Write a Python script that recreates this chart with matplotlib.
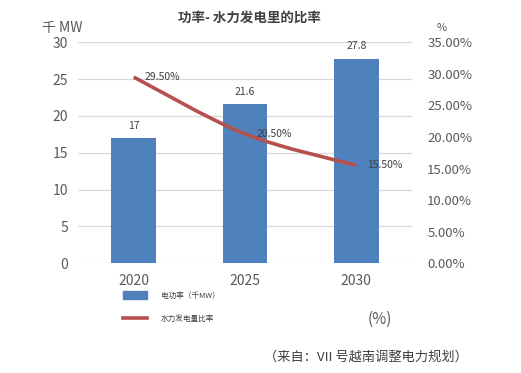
import matplotlib.pyplot as plt
from matplotlib.path import Path
from matplotlib.patches import PathPatch, Patch
from matplotlib.lines import Line2D

plt.rcParams['font.family'] = ['Noto Sans CJK SC', 'DejaVu Sans']

# data
years = ["2020", "2025", "2030"]
power = [17, 21.6, 27.8]             # 千 MW
hydro_share = [29.5, 20.5, 15.5]     # %

bar_color = "#4F81BD"
line_color = "#B5504D"
text_color = "#595959"

fig = plt.figure(figsize=(5.21, 3.73), dpi=100)
ax = fig.add_axes([0.1497, 0.294, 0.641, 0.5926])
ax2 = ax.twinx()

x = list(range(len(years)))
ax.bar(x, power, width=0.4, color=bar_color, zorder=2)
for xi, v in zip(x, power):
    ax.text(xi, v + 1.0, f"{v:g}", ha="center", va="bottom", fontsize=7.5, color="#404040")

ax.set_xlim(-0.5, 2.5)
ax.set_ylim(0, 30)
ax.set_yticks(range(0, 31, 5))
ax.set_xticks(x)
ax.set_xticklabels(years)
ax.grid(axis="y", color="#D9D9D9", linewidth=0.9, zorder=0)
ax.set_axisbelow(True)
ax.tick_params(length=0, labelsize=10, colors=text_color, pad=7)
ax.tick_params(axis="x", pad=8)

# smoothed line (catmull-rom style bezier through the points)
pts = list(zip(x, hydro_share))
ext = [pts[0]] + pts + [pts[-1]]
verts = [pts[0]]
codes = [Path.MOVETO]
for i in range(len(pts) - 1):
    p0, p1, p2, p3 = ext[i], ext[i + 1], ext[i + 2], ext[i + 3]
    c1 = (p1[0] + (p2[0] - p0[0]) / 6, p1[1] + (p2[1] - p0[1]) / 6)
    c2 = (p2[0] - (p3[0] - p1[0]) / 6, p2[1] - (p3[1] - p1[1]) / 6)
    verts += [c1, c2, p2]
    codes += [Path.CURVE4] * 3
ax2.add_patch(PathPatch(Path(verts, codes), fill=False, edgecolor=line_color,
                        linewidth=2.6, zorder=3))
for xi, v in zip(x, hydro_share):
    ax2.text(xi + 0.1, v, f"{v:.2f}%", ha="left", va="center",
             fontsize=7.5, color="#404040")

ax2.set_ylim(0, 35)
ax2.set_yticks(range(0, 36, 5))
ax2.set_yticklabels([f"{t:.2f}%" for t in range(0, 36, 5)])
ax2.tick_params(length=0, labelsize=9.5, colors=text_color, pad=11)

for a in (ax, ax2):
    for s in a.spines.values():
        s.set_visible(False)

fig.text(0.478, 0.952, "功率- 水力发电里的比率", ha="center", va="center",
         fontsize=9.7, fontweight="bold", color="#404040")
fig.text(0.08, 0.925, "千 MW", ha="left", va="center", fontsize=10, color=text_color)
fig.text(0.848, 0.925, "%", ha="center", va="center", fontsize=8, color=text_color)

handles = [Patch(color=bar_color), Line2D([0], [0], color=line_color, linewidth=2.6)]
labels = ["电功率（千MW）", "水力发电量比率"]
fig.legend(handles, labels, loc="upper left", bbox_to_anchor=(0.222, 0.238),
           frameon=False, fontsize=5.5, handlelength=3.2, handleheight=1.2,
           labelspacing=2.0, handletextpad=1.8, labelcolor="#404040")

fig.text(0.729, 0.145, "(%)", ha="center", va="center", fontsize=11, color=text_color)
fig.text(0.702, 0.043, "（来自：VII 号越南调整电力规划）", ha="center", va="center",
         fontsize=9.5, style="italic", color="#404040")

fig.savefig("out.png", dpi=100)
